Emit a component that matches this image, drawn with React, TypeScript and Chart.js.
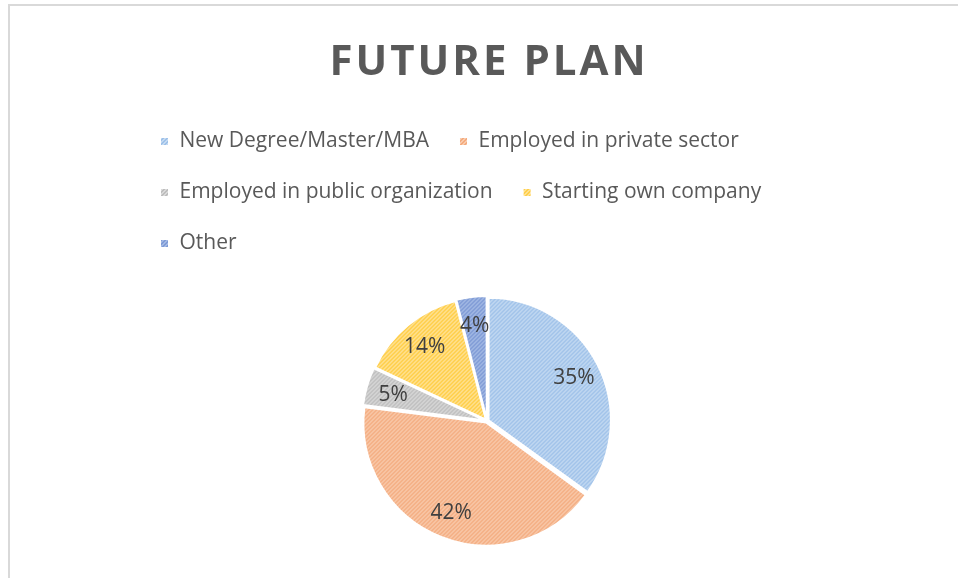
import React, { useEffect, useRef } from "react";
import { Chart, registerables } from "chart.js";

Chart.register(...registerables);

const TITLE = "FUTURE PLAN";
const categories = [
  "New Degree/Master/MBA",
  "Employed in private sector",
  "Employed in public organization",
  "Starting own company",
  "Other",
];
const values = [35, 42, 5, 14, 4];
const lightColors = ["#c4daf2", "#f9cbad", "#d9d9d9", "#ffe190", "#a3b9e4"];
const darkColors = ["#9ec1e9", "#f4ab7e", "#bdbdbd", "#ffcf4a", "#7f9bd6"];

function makePattern(light: string, dark: string): CanvasPattern | string {
  const c = document.createElement("canvas");
  c.width = 4;
  c.height = 4;
  const g = c.getContext("2d");
  if (!g) return light;
  g.fillStyle = light;
  g.fillRect(0, 0, 4, 4);
  g.fillStyle = dark;
  for (let y = 0; y < 4; y++) {
    for (let x = 0; x < 4; x++) {
      if ((x + y) % 4 < 2) g.fillRect(x, y, 1, 1);
    }
  }
  const p = g.createPattern(c, "repeat");
  return p || light;
}

const titlePlugin = {
  id: "spacedTitle",
  afterDraw(chart: any) {
    const ctx = chart.ctx as CanvasRenderingContext2D;
    ctx.save();
    ctx.font = "bold 42px 'Open Sans', sans-serif";
    (ctx as any).letterSpacing = "3px";
    ctx.fillStyle = "#595959";
    ctx.textAlign = "center";
    ctx.textBaseline = "alphabetic";
    ctx.fillText(TITLE, 489, 75);
    ctx.restore();
  },
};

const labelPlugin = {
  id: "pctLabels",
  afterDatasetsDraw(chart: any) {
    const ctx = chart.ctx as CanvasRenderingContext2D;
    const meta = chart.getDatasetMeta(0);
    const data = chart.data.datasets[0].data as number[];
    const total = data.reduce((a, b) => a + b, 0);
    ctx.save();
    ctx.font = "21px 'Open Sans', sans-serif";
    ctx.fillStyle = "#404040";
    ctx.textAlign = "center";
    ctx.textBaseline = "alphabetic";
    meta.data.forEach((arc: any, i: number) => {
      const { x, y, startAngle, endAngle, outerRadius } = arc.getProps(
        ["x", "y", "startAngle", "endAngle", "outerRadius"],
        true
      );
      const mid = (startAngle + endAngle) / 2;
      const r = outerRadius * 0.8;
      const pct = Math.round((data[i] / total) * 100) + "%";
      ctx.fillText(pct, x + Math.cos(mid) * r, y + Math.sin(mid) * r + 7.5);
    });
    ctx.restore();
  },
};

export default function App() {
  const ref = useRef<HTMLCanvasElement>(null);
  useEffect(() => {
    if (!ref.current) return;
    const patterns = values.map((_, i) => makePattern(lightColors[i], darkColors[i]));
    const chart = new Chart(ref.current, {
      type: "pie",
      data: {
        labels: categories,
        datasets: [
          {
            data: values,
            backgroundColor: patterns as any,
            borderColor: "#ffffff",
            borderWidth: 2,
            offset: 7,
          },
        ],
      },
      options: {
        responsive: false,
        animation: false,
        radius: 122,
        layout: { padding: { left: 130, right: 114, top: 101, bottom: -3 } },
        plugins: {
          title: { display: false },
          tooltip: { enabled: false },
          legend: {
            display: true,
            position: "top",
            align: "start",
            labels: {
              boxWidth: 9,
              boxHeight: 9,
              padding: 30,
              color: "#595959",
              font: { family: "'Open Sans', sans-serif", size: 21 },
            },
          },
        },
      } as any,
      plugins: [titlePlugin, labelPlugin],
    });
    return () => chart.destroy();
  }, []);
  return (
    <div style={{ position: "fixed", left: 0, top: 0, width: 958, height: 578, overflow: "hidden", background: "#fff" }}>
      <div
        style={{
          position: "absolute",
          left: 8,
          top: 4,
          width: 2000,
          height: 2000,
          borderLeft: "2px solid #d9d9d9",
          borderTop: "2px solid #d9d9d9",
        }}
      />
      <canvas ref={ref} width={958} height={578} style={{ position: "absolute", left: 0, top: 0 }} />
    </div>
  );
}
